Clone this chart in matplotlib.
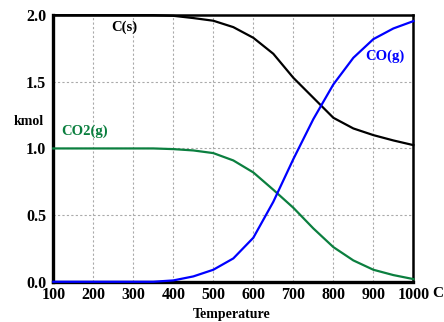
import matplotlib
matplotlib.use("Agg")
import matplotlib.pyplot as plt

# temperature (C) and equilibrium amounts (kmol)
temps = [100, 150, 200, 250, 300, 350, 400, 450, 500, 550, 600, 650, 700, 750,
         800, 850, 900, 950, 1000]
c_s = [2.0, 2.0, 2.0, 2.0, 2.0, 2.0, 1.995, 1.978, 1.958, 1.91, 1.83, 1.71, 1.53,
       1.38, 1.23, 1.15, 1.10, 1.06, 1.025]
co_g = [0.0, 0.0, 0.0, 0.0, 0.0, 0.0, 0.01, 0.04, 0.09, 0.175, 0.33, 0.60, 0.92,
        1.22, 1.48, 1.68, 1.82, 1.90, 1.955]
co2_g = [1.0, 1.0, 1.0, 1.0, 1.0, 1.0, 0.995, 0.985, 0.965, 0.91, 0.82, 0.69, 0.555,
         0.40, 0.26, 0.16, 0.09, 0.05, 0.02]

xticks = [100, 200, 300, 400, 500, 600, 700, 800, 900, 1000]
yticks = [0.0, 0.5, 1.0, 1.5, 2.0]

GREEN = "#0b7f3f"
plt.rcParams["font.family"] = ["Liberation Serif", "DejaVu Serif"]
plt.rcParams["font.weight"] = "bold"

fig = plt.figure(figsize=(4.44, 3.22), dpi=100)
ax = fig.add_axes([0.120, 0.125, 0.811, 0.828])

ax.plot(temps, c_s, color="black", lw=1.6, clip_on=False, zorder=3)
ax.plot(temps, co2_g, color=GREEN, lw=1.6, clip_on=False, zorder=3)
ax.plot(temps, co_g, color="blue", lw=1.6, clip_on=False, zorder=4)

ax.set_xlim(100, 1000)
ax.set_ylim(0, 2.0)
ax.set_xticks(xticks)
ax.set_yticks(yticks)
ax.set_xticklabels([str(t) for t in xticks])
ax.set_yticklabels([f"{v:.1f}" for v in yticks])
ax.tick_params(axis="x", length=0, labelsize=11.5, pad=4)
ax.tick_params(axis="y", length=0, labelsize=11.5, pad=5)
ax.grid(True, color="#aaaaaa", linestyle=(0, (2, 2)), linewidth=0.8)

for side in ["left", "bottom"]:
    ax.spines[side].set_linewidth(2.4)
for side in ["top", "right"]:
    ax.spines[side].set_linewidth(1.8)

ax.text(244, 1.91, "C(s)", color="black", fontsize=10.5, ha="left", va="center")
ax.text(879, 1.69, "CO(g)", color="blue", fontsize=10.5, ha="left", va="center")
ax.text(119, 1.13, "CO2(g)", color=GREEN, fontsize=10.5, ha="left", va="center")

fig.text(0.065, 0.624, "kmol", fontsize=10, ha="center", va="center")
fig.text(0.522, 0.024, "Temperature", fontsize=10, ha="center", va="center")
fig.text(0.974, 0.088, "C", fontsize=11, ha="left", va="center")

fig.savefig("out.png", dpi=100)
